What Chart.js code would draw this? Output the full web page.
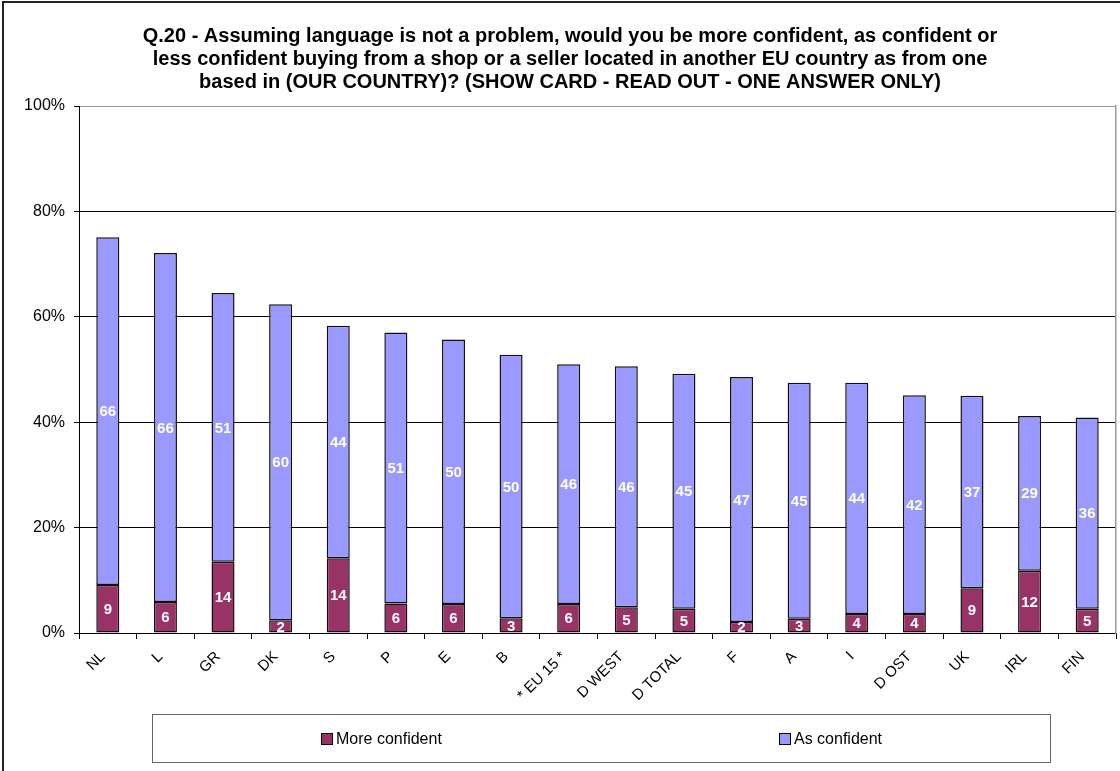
<!DOCTYPE html>
<html>
<head>
<meta charset="utf-8">
<script src="https://cdn.jsdelivr.net/npm/chart.js@4/dist/chart.umd.min.js"></script>
<style>
  body { margin: 0; background: #fff; overflow: hidden; width: 1120px; height: 771px; position: relative; }
  #frame { position: absolute; left: 2px; top: 1px; width: 1300px; height: 900px; border: 2px solid #222; }
  #chart { position: absolute; left: 0; top: 0; }
  #legend { position: absolute; left: 152px; top: 714px; width: 899px; height: 49px; box-sizing: border-box;
            border: 1px solid #666; font-family: Arial, "Liberation Sans", sans-serif; font-size: 16px; color: #000; }
  .item { position: absolute; top: 13px; line-height: 22px; white-space: nowrap; }
  .swatch { display: inline-block; width: 10px; height: 10px; border: 1px solid #000; margin-right: 3px; vertical-align: -1px; }
</style>
</head>
<body>
<div id="frame"></div>
<canvas id="chart" width="1140" height="771"></canvas>
<div id="legend"></div>
<script>
const categories = ['NL', 'L', 'GR', 'DK', 'S', 'P', 'E', 'B', '* EU 15 *', 'D WEST', 'D TOTAL', 'F', 'A', 'I', 'D OST', 'UK', 'IRL', 'FIN']
const moreConfident = [9.1, 5.9, 13.5, 2.4, 14.2, 5.6, 5.5, 2.8, 5.5, 4.9, 4.6, 2.1, 2.7, 3.6, 3.6, 8.5, 11.8, 4.6]
const asConfident = [66.0, 66.2, 51.0, 60.0, 44.1, 51.4, 50.2, 50.0, 45.5, 45.7, 44.6, 46.5, 44.8, 43.9, 41.5, 36.5, 29.4, 36.3]
const yTicks = [0, 20, 40, 60, 80, 100]
const titleLines = [
    'Q.20 - Assuming language is not a problem, would you be more confident, as confident or',
    'less confident buying from a shop or a seller located in another EU country as from one',
    'based in (OUR COUNTRY)? (SHOW CARD - READ OUT - ONE ANSWER ONLY)'
]
const legendX = [168, 626]   // left of each legend entry inside the box

Chart.defaults.font.family = 'Arial, "Liberation Sans", sans-serif'
Chart.defaults.color = '#000'

// white value labels in the middle of each segment
const valueLabels = {
    id: 'valueLabels',
    afterDatasetsDraw(chart) {
        const ctx = chart.ctx
        ctx.save()
        ctx.fillStyle = '#fff'
        ctx.font = 'bold 15px Arial, "Liberation Sans", sans-serif'
        ctx.textAlign = 'center'
        ctx.textBaseline = 'middle'
        chart.data.datasets.forEach((ds, i) => {
            chart.getDatasetMeta(i).data.forEach((bar, j) => {
                const y = (bar.y + bar.base) / 2
                ctx.fillText(Math.round(ds.data[j]), bar.x, y + 1)
            })
        })
        ctx.restore()
    }
}

const barStyle = {
    borderColor: '#111',
    borderWidth: 1.5,
    borderSkipped: false,
    barPercentage: 0.4,
    categoryPercentage: 1
}

const chart = new Chart(document.getElementById('chart'), {
    type: 'bar',
    data: {
        labels: categories,
        datasets: [
            Object.assign({ label: 'More confident', data: moreConfident, backgroundColor: '#993366' }, barStyle),
            Object.assign({ label: 'As confident', data: asConfident, backgroundColor: '#9999FF' }, barStyle)
        ]
    },
    options: {
        responsive: false,
        animation: false,
        layout: { padding: 0 },
        plugins: {
            legend: { display: false },
            tooltip: { enabled: false },
            title: {
                display: true,
                text: titleLines,
                font: { size: 20, weight: 'bold', lineHeight: 1.15 },
                color: '#000',
                padding: { top: 25, bottom: 12 }
            }
        },
        scales: {
            x: {
                stacked: true,
                grid: { display: true, drawOnChartArea: false, offset: true, tickLength: 6, color: '#000' },
                border: { color: '#000', width: 1 },
                ticks: { font: { size: 15 }, minRotation: 45, maxRotation: 45, padding: 9, labelOffset: -5, autoSkip: false },
                afterFit(scale) { scale.height = 138 }
            },
            y: {
                stacked: true,
                min: 0,
                max: 100,
                afterBuildTicks(scale) { scale.ticks = yTicks.map(v => ({ value: v })) },
                grid: {
                    color: ctx => (ctx.tick && ctx.tick.value === 100) ? '#999' : '#000',
                    tickColor: '#000',
                    tickLength: 5
                },
                border: { color: '#000', width: 1 },
                ticks: { font: { size: 16 }, padding: 9, callback: v => v + '%' },
                afterFit(scale) { scale.width = 79 }
            },
            // empty right axis: grey right edge of the plot area
            yRight: {
                position: 'right',
                min: 0,
                max: 100,
                grid: { display: false, drawTicks: false },
                ticks: { display: false },
                border: { color: '#999', width: 1.5 },
                afterFit(scale) { scale.width = 24 }
            }
        }
    },
    plugins: [valueLabels]
})

// legend box built from the datasets
const legend = document.getElementById('legend')
chart.data.datasets.forEach((ds, i) => {
    const item = document.createElement('div')
    item.className = 'item'
    item.style.left = legendX[i] + 'px'
    item.innerHTML = '<span class="swatch" style="background:' + ds.backgroundColor + '"></span>' + ds.label
    legend.appendChild(item)
})
</script>
</body>
</html>
